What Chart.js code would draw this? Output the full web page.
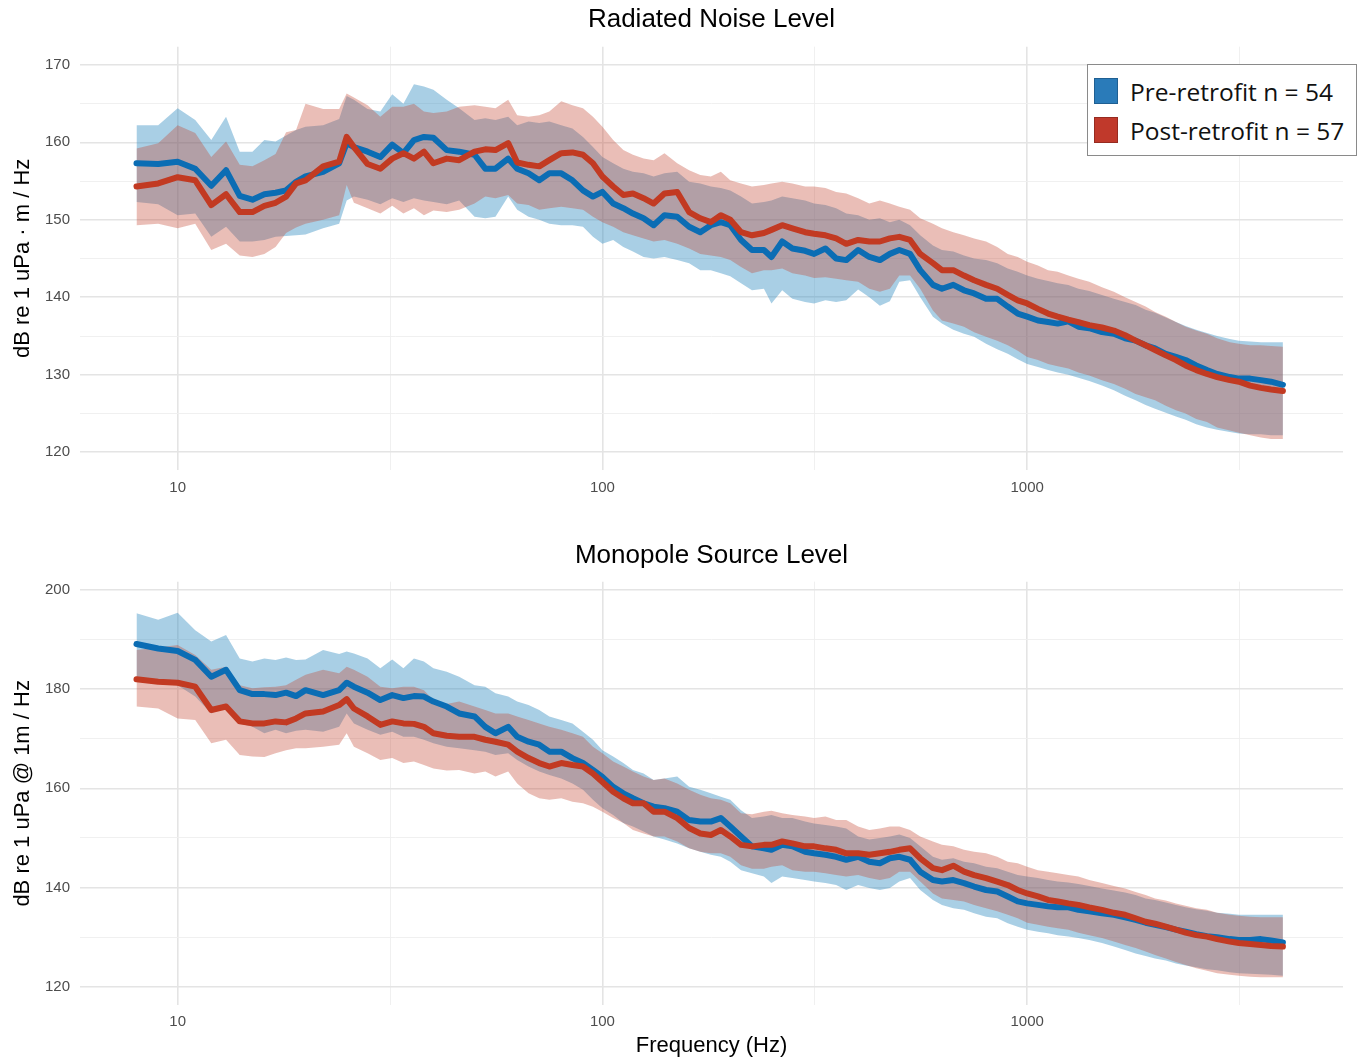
<!DOCTYPE html>
<html>
<head>
<meta charset="utf-8">
<title>Radiated Noise Level / Monopole Source Level</title>
<script src="https://cdn.jsdelivr.net/npm/chart.js@4.4.1/dist/chart.umd.min.js"></script>
<style>
  html, body { margin: 0; padding: 0; background: #ffffff; }
  #page { position: relative; width: 1363px; height: 1059px; overflow: hidden; background: #ffffff; }
  canvas { position: absolute; left: 0; display: block; }
  #rnlCanvas { top: 0; }
  #mslCanvas { top: 520px; }
  #legend {
    position: absolute; left: 1087px; top: 64px; width: 268px; height: 90px;
    border: 1.5px solid #8a8a8a; background: #ffffff;
    font-family: "Open Sans", "Noto Sans", sans-serif; font-size: 24.5px; color: #111111;
  }
  .legend-item { position: absolute; left: 6px; height: 26px; display: flex; align-items: center; white-space: nowrap; }
  .swatch { width: 24px; height: 26px; box-sizing: border-box; margin-right: 12px; }
</style>
</head>
<body>
<div id="page">
  <canvas id="rnlCanvas" width="1363" height="520"></canvas>
  <canvas id="mslCanvas" width="1363" height="539"></canvas>
  <div id="legend"></div>
</div>
<script>
// Frequency bins (Hz) shared by every curve
const FREQ_HZ = [
  8,9,10,11,12,13,14,15,16,17,18,19,20,
  22,24,25,26,28,30,32,34,36,38,40,43,
  46,50,53,56,60,63,67,71,75,80,85,90,95,100,
  106,112,118,125,132,140,150,160,170,180,190,200,
  212,225,240,250,265,280,300,315,335,355,375,400,
  425,450,475,500,530,560,600,630,670,710,750,800,
  850,900,950,1000,1060,1120,1180,1250,1320,1400,1500,1600,
  1700,1800,1900,2000,2120,2240,2360,2500,2650,2800,3000,3150,
  3350,3550,3750,4000
];

// Radiated noise level, dB re 1 uPa·m/Hz
const rnlPreMean = [
  157.3,157.2,157.5,156.6,154.4,156.4,153.1,152.6,153.3,153.5,153.8,154.9,155.6,
  156.2,157.3,159.9,159.4,158.8,158.1,159.7,158.6,160.3,160.7,160.6,159.0,
  158.8,158.4,156.6,156.6,157.9,156.6,156.0,155.1,156.0,156.0,155.1,153.8,153.0,153.6,
  152.1,151.5,150.8,150.2,149.3,150.6,150.4,149.1,148.4,149.3,149.7,149.3,
  147.4,146.1,146.1,145.2,147.2,146.3,146.0,145.6,146.3,145.0,144.8,146.1,
  145.2,144.8,145.6,146.1,145.6,143.5,141.6,141.1,141.6,140.9,140.5,139.8,
  139.8,138.8,137.9,137.5,137.0,136.8,136.6,136.9,136.2,136.0,135.5,135.3,
  134.7,134.4,133.8,133.4,132.7,132.3,131.9,131.2,130.6,130.1,129.7,129.5,
  129.5,129.3,129.1,128.7
];
const rnlPreUpper = [
  162.2,162.2,164.4,162.9,160.3,163.3,158.8,158.8,160.3,160.1,160.9,161.6,162.0,
  162.2,163.0,166.0,165.5,164.3,164.0,166.2,165.0,167.5,167.2,166.8,165.5,
  164.4,162.9,163.1,162.9,163.3,162.2,162.7,162.5,162.7,162.2,161.8,160.7,159.4,158.1,
  157.3,156.6,156.2,156.0,155.6,156.0,156.2,154.9,154.7,154.3,154.1,153.8,
  153.0,152.1,152.3,152.5,153.0,152.8,152.5,152.1,151.9,151.5,150.8,150.6,
  150.0,150.2,149.7,150.0,149.3,148.0,146.7,146.1,145.9,145.4,145.0,144.8,
  144.4,143.7,143.3,142.8,142.4,142.1,141.8,141.6,141.1,140.8,140.3,139.8,
  139.4,139.0,138.4,138.0,137.4,136.8,136.3,135.8,135.4,135.0,134.6,134.4,
  134.3,134.2,134.2,134.2
];
const rnlPreLower = [
  152.3,152.0,150.6,150.8,147.8,149.1,147.2,147.2,147.4,147.8,147.9,148.0,148.1,
  148.9,149.5,152.5,153.0,152.6,152.0,152.8,152.3,152.8,152.5,152.3,152.0,
  152.5,150.4,150.2,150.4,153.0,151.3,150.4,150.0,149.5,149.3,149.3,149.1,147.8,146.9,
  147.4,146.5,145.9,145.2,145.0,145.2,144.8,144.4,143.5,143.5,143.1,142.7,
  141.8,140.9,141.1,139.2,140.9,139.8,139.4,139.2,139.6,139.4,139.6,141.0,
  140.0,138.9,139.5,142.0,142.2,140.0,137.5,136.6,135.8,135.3,134.9,134.0,
  133.3,132.7,132.0,131.4,131.0,130.6,130.3,130.0,129.6,129.2,128.6,128.0,
  127.3,126.7,126.1,125.6,125.1,124.6,124.2,123.6,123.2,122.9,122.6,122.4,
  122.3,122.3,122.2,122.2
];
const rnlPostMean = [
  154.3,154.7,155.5,155.1,151.9,153.3,151.0,151.0,151.8,152.2,153.0,154.7,155.1,
  156.9,157.5,160.7,159.4,157.2,156.6,157.9,158.6,157.9,158.8,157.3,157.9,
  157.7,158.8,159.1,159.0,159.9,157.4,157.1,156.9,157.7,158.6,158.7,158.4,157.3,155.6,
  154.3,153.2,153.4,152.8,152.1,153.4,153.6,151.0,150.2,149.7,150.6,150.0,
  148.4,148.0,148.3,148.7,149.3,148.9,148.4,148.2,148.0,147.6,146.9,147.4,
  147.2,147.2,147.6,147.8,147.4,145.6,144.4,143.5,143.5,142.8,142.2,141.6,
  141.1,140.3,139.6,139.2,138.5,137.9,137.5,137.1,136.8,136.4,136.1,135.7,
  135.1,134.4,133.8,133.2,132.5,131.9,131.2,130.6,130.1,129.7,129.3,129.1,
  128.6,128.3,128.1,127.9
];
const rnlPostUpper = [
  159.2,159.9,162.2,161.2,158.1,160.1,157.1,156.9,157.7,158.5,161.3,161.6,165.0,
  164.3,164.3,166.3,165.8,164.8,163.3,164.6,164.6,165.0,164.0,163.8,164.0,
  164.6,164.8,164.6,164.4,165.5,163.5,163.3,163.5,164.0,165.3,164.8,164.4,163.3,162.0,
  160.3,159.0,158.4,157.9,157.7,158.6,157.3,156.4,155.8,155.6,156.2,155.1,
  154.7,154.3,154.5,154.7,154.9,154.7,154.3,154.3,154.1,153.6,153.4,152.8,
  152.1,152.5,152.1,151.7,151.3,150.2,149.5,148.9,148.4,148.0,147.6,147.2,
  146.5,145.6,145.2,144.6,144.1,143.5,143.3,142.8,142.4,142.0,141.3,140.7,
  140.0,139.4,138.8,138.1,137.5,136.8,136.2,135.7,135.3,134.7,134.2,134.0,
  133.8,133.8,133.7,133.6
];
const rnlPostLower = [
  149.3,149.5,148.9,149.5,146.1,146.9,145.4,145.2,145.6,146.5,148.3,149.0,149.5,
  150.0,150.6,154.5,152.2,151.5,150.8,151.8,150.8,151.5,150.6,151.2,151.0,
  151.3,152.1,153.0,152.8,153.2,152.1,151.9,151.3,151.5,151.7,151.5,151.3,150.4,149.7,
  149.1,148.4,148.0,147.6,147.2,147.4,146.9,146.3,145.6,145.4,145.2,144.8,
  143.9,143.1,143.5,143.5,143.7,143.1,142.8,142.5,142.6,142.4,142.2,142.0,
  141.1,140.7,141.1,142.8,142.8,141.1,138.3,137.0,136.6,136.2,135.5,134.9,
  134.4,133.8,133.1,132.3,131.9,131.4,131.1,130.8,130.3,129.9,129.3,128.8,
  128.2,127.5,127.1,126.7,126.0,125.4,125.0,124.3,123.9,123.2,122.8,122.5,
  122.2,121.9,121.7,121.7
];

// Monopole source level, dB re 1 uPa @ 1m/Hz
const mslPreMean = [
  189.1,188.2,187.7,185.9,182.5,183.9,179.8,179.0,179.0,178.8,179.3,178.6,179.8,
  178.8,179.8,181.3,180.5,179.3,177.8,178.8,178.2,178.6,178.5,177.5,176.5,
  175.1,174.5,172.4,171.1,172.4,170.4,169.4,168.8,167.4,167.4,166.1,165.1,163.7,162.3,
  160.3,159.0,158.0,157.0,156.3,156.0,155.3,153.6,153.3,153.3,154.0,152.3,
  150.3,148.3,147.9,147.6,148.6,148.3,147.2,146.9,146.6,146.2,145.6,146.2,
  145.2,144.9,145.9,146.2,145.6,143.2,141.5,141.2,141.5,140.9,140.2,139.5,
  139.2,138.2,137.2,136.8,136.5,136.2,136.0,136.0,135.5,135.2,134.8,134.5,
  134.0,133.5,132.9,132.5,132.0,131.5,131.1,130.6,130.2,130.0,129.6,129.4,
  129.4,129.6,129.3,128.9
];
const mslPreUpper = [
  195.3,194.0,195.4,191.9,189.6,190.9,186.2,185.6,186.2,185.9,186.4,185.9,186.0,
  187.9,187.1,187.6,187.2,186.2,184.2,186.0,184.2,186.2,185.6,184.2,183.5,
  182.5,180.8,180.5,179.2,178.5,177.5,176.8,175.8,174.5,173.8,173.1,171.4,169.8,167.7,
  166.4,165.1,163.7,163.0,161.7,162.0,162.4,160.3,159.7,159.0,158.3,157.7,
  155.6,154.0,154.3,154.6,154.0,154.0,153.3,152.9,152.6,152.3,151.9,150.3,
  149.7,150.0,150.3,150.7,150.0,148.3,146.2,145.6,145.9,145.2,144.9,144.2,
  143.9,143.2,142.5,142.2,141.9,141.5,141.2,141.0,140.7,140.3,139.8,139.4,
  139.0,138.5,137.8,137.5,137.0,136.5,136.0,135.6,135.3,134.9,134.7,134.5,
  134.5,134.5,134.5,134.5
];
const mslPreLower = [
  181.5,181.2,180.8,178.5,175.1,176.5,173.1,172.4,171.1,171.8,171.1,171.6,171.8,
  171.4,172.4,175.1,173.1,171.8,170.8,171.4,170.4,170.4,169.8,169.1,168.4,
  168.1,167.7,167.4,166.7,167.1,165.7,164.4,163.4,162.7,162.0,161.0,159.7,157.7,156.0,
  154.6,153.0,152.3,151.3,150.3,149.7,148.9,147.9,147.2,146.6,146.2,145.2,
  143.5,142.9,142.2,140.9,142.2,141.9,141.5,141.2,140.9,140.5,139.5,140.5,
  139.9,139.5,139.9,141.2,141.9,139.5,137.5,136.5,135.8,135.5,134.8,134.1,
  133.8,132.8,132.1,131.5,131.1,130.8,130.4,130.1,129.8,129.4,128.8,128.1,
  127.4,126.7,126.2,125.7,125.3,124.7,124.3,123.9,123.5,123.3,122.9,122.7,
  122.6,122.5,122.4,122.2
];
const mslPostMean = [
  182.0,181.5,181.3,180.5,175.8,176.5,173.5,173.1,173.1,173.5,173.3,174.1,175.1,
  175.5,176.8,178.0,176.1,174.5,172.8,173.5,173.1,173.0,172.4,171.1,170.6,
  170.4,170.4,169.8,169.4,168.8,167.4,166.1,165.1,164.4,165.1,164.7,164.4,163.0,161.3,
  159.3,158.0,157.0,157.0,155.3,155.3,154.0,152.0,150.9,150.6,151.6,150.3,
  148.6,148.3,148.6,148.6,149.3,148.9,148.3,148.3,147.9,147.6,146.9,146.9,
  146.6,146.9,147.2,147.6,147.9,145.9,143.9,143.5,144.4,143.2,142.5,141.9,
  141.2,140.5,139.5,138.8,138.2,137.5,137.2,136.8,136.5,136.0,135.5,134.9,
  134.5,133.8,133.1,132.7,132.1,131.5,130.9,130.4,130.1,129.6,129.1,128.8,
  128.6,128.4,128.2,128.1
];
const mslPostUpper = [
  187.9,188.4,188.9,186.9,183.9,184.5,180.8,180.2,180.4,180.5,180.8,181.9,182.9,
  183.9,183.2,184.5,183.9,182.5,180.5,180.2,180.5,180.5,179.8,177.8,177.0,
  177.5,176.5,175.8,175.1,175.1,174.5,173.8,173.1,172.4,171.8,171.1,170.4,168.4,167.1,
  165.4,164.4,163.4,162.4,161.7,162.0,161.0,159.7,158.7,158.0,157.7,157.0,
  155.0,154.8,155.3,155.5,155.0,154.6,154.3,154.0,154.3,153.6,153.6,152.3,
  151.6,151.9,152.3,152.3,151.6,150.3,149.3,148.6,148.3,147.6,147.2,146.9,
  146.2,145.2,144.9,144.2,143.5,143.2,142.9,142.5,142.2,141.5,140.9,140.3,
  139.8,139.1,138.5,137.8,137.4,136.8,136.3,135.8,135.5,134.9,134.5,134.3,
  134.1,134.0,134.0,134.0
];
const mslPostLower = [
  176.5,176.1,174.1,173.8,169.1,169.8,166.7,166.4,166.3,167.1,167.7,168.1,168.1,
  168.4,168.8,171.1,168.4,167.1,165.7,166.1,165.1,165.4,164.7,164.0,163.6,
  163.7,163.0,163.4,162.4,163.4,161.0,159.0,158.0,157.7,158.0,157.3,157.0,156.3,155.3,
  154.0,153.0,151.6,150.9,150.3,150.3,149.3,147.9,147.2,146.9,146.9,146.2,
  144.5,143.8,143.8,144.2,144.5,143.5,143.2,143.2,142.9,142.5,142.2,142.5,
  141.9,141.5,141.9,143.2,143.2,141.2,138.8,137.8,137.5,137.2,136.5,135.8,
  135.2,134.5,133.8,132.9,132.5,132.1,131.8,131.5,130.9,130.4,129.8,129.1,
  128.4,127.8,127.1,126.4,125.7,125.0,124.4,123.7,123.2,122.7,122.4,122.2,
  122.0,121.9,121.9,121.9
];

// Axis breaks
const X_TICKS = [10, 31.6228, 100, 316.228, 1000, 3162.28];
const X_TICK_LABELS = ['10', '', '100', '', '1000', ''];
const RNL_Y_TICKS = [120,125,130,135,140,145,150,155,160,165,170];
const MSL_Y_TICKS = [120,130,140,150,160,170,180,190,200];
const RNL_Y_LABEL_STEP = 10;
const MSL_Y_LABEL_STEP = 20;

const SERIES_NAMES = ['Pre-retrofit n = 54', 'Post-retrofit n = 57'];

// Colours
const PRE_LINE = '#0b6db4';
const POST_LINE = '#c23a22';
const PRE_FILL = 'rgba(40,135,190,0.40)';
const POST_FILL = 'rgba(195,70,50,0.35)';
const PRE_SWATCH = '#2a7bb9';
const POST_SWATCH = '#c0392b';
const GRID_MAJOR = '#e4e4e4';
const GRID_MINOR = '#eeeeee';
const TICK_COLOR = '#4d4d4d';
const SANS = '"Liberation Sans", Arial, sans-serif';

function points(values) {
  return FREQ_HZ.map((f, i) => ({ x: f, y: values[i] }));
}

function bandDatasets(lower, upper, fill, order) {
  return [
    { data: points(lower), borderWidth: 0, borderColor: 'transparent', pointRadius: 0, fill: false, order },
    { data: points(upper), borderWidth: 0, borderColor: 'transparent', pointRadius: 0, backgroundColor: fill, fill: '-1', order }
  ];
}

function meanDataset(values, color, order) {
  return {
    data: points(values), borderColor: color, borderWidth: 6, pointRadius: 0,
    fill: false, tension: 0, borderJoinStyle: 'round', borderCapStyle: 'round', order
  };
}

function buildChart(canvasId, cfg) {
  const datasets = [
    ...bandDatasets(cfg.preLower, cfg.preUpper, PRE_FILL, 4),
    ...bandDatasets(cfg.postLower, cfg.postUpper, POST_FILL, 3),
    meanDataset(cfg.preMean, PRE_LINE, 2),
    meanDataset(cfg.postMean, POST_LINE, 1)
  ];
  return new Chart(document.getElementById(canvasId), {
    type: 'line',
    data: { datasets },
    options: {
      responsive: false,
      animation: false,
      events: [],
      layout: { padding: { left: 0, right: 20, top: 0, bottom: 0 } },
      plugins: {
        legend: { display: false },
        tooltip: { enabled: false },
        title: {
          display: true, fullSize: false, text: cfg.title, color: '#000000',
          font: { family: SANS, size: 26, weight: 'normal' },
          padding: cfg.titlePadding
        }
      },
      scales: {
        x: {
          type: 'logarithmic',
          min: 5.89, max: 5540,
          afterBuildTicks: (s) => { s.ticks = X_TICKS.map(v => ({ value: v })); },
          afterFit: (s) => { s.height = cfg.xAxisHeight; },
          border: { display: false },
          grid: {
            drawTicks: false,
            color: (c) => (X_TICK_LABELS[c.index] ? GRID_MAJOR : GRID_MINOR),
            lineWidth: (c) => (X_TICK_LABELS[c.index] ? 1.6 : 0.9)
          },
          ticks: {
            autoSkip: false, maxRotation: 0, minRotation: 0, padding: cfg.xTickPadding,
            color: TICK_COLOR, font: { family: SANS, size: 15 },
            callback: (v, i) => X_TICK_LABELS[i]
          },
          title: cfg.xTitle
            ? { display: true, text: cfg.xTitle, color: '#000000', font: { family: SANS, size: 22 }, padding: { top: 0, bottom: 0 } }
            : { display: false }
        },
        y: {
          type: 'linear',
          min: cfg.yMin, max: cfg.yMax,
          afterBuildTicks: (s) => { s.ticks = cfg.yTicks.map(v => ({ value: v })); },
          afterFit: (s) => { s.width = 80; },
          border: { display: false },
          grid: {
            drawTicks: false,
            color: (c) => (c.tick && c.tick.value % cfg.yLabelStep === 0 ? GRID_MAJOR : GRID_MINOR),
            lineWidth: (c) => (c.tick && c.tick.value % cfg.yLabelStep === 0 ? 1.6 : 0.9)
          },
          ticks: {
            autoSkip: false, padding: 10, color: TICK_COLOR, font: { family: SANS, size: 15 },
            callback: (v) => (v % cfg.yLabelStep === 0 ? String(v) : '')
          },
          title: { display: true, text: cfg.yTitle, color: '#000000', font: { family: SANS, size: 22 }, padding: { top: 10, bottom: 0 } }
        }
      }
    }
  });
}

buildChart('rnlCanvas', {
  title: 'Radiated Noise Level',
  titlePadding: { top: 4.4, bottom: 11.1 },
  yTitle: 'dB re 1 uPa · m / Hz',
  yMin: 117.7, yMax: 172.35, yTicks: RNL_Y_TICKS, yLabelStep: RNL_Y_LABEL_STEP,
  xAxisHeight: 50, xTickPadding: 9, xTitle: null,
  preMean: rnlPreMean, preUpper: rnlPreUpper, preLower: rnlPreLower,
  postMean: rnlPostMean, postUpper: rnlPostUpper, postLower: rnlPostLower
});

buildChart('mslCanvas', {
  title: 'Monopole Source Level',
  titlePadding: { top: 20.4, bottom: 10.1 },
  yTitle: 'dB re 1 uPa @ 1m / Hz',
  yMin: 116.31, yMax: 201.67, yTicks: MSL_Y_TICKS, yLabelStep: MSL_Y_LABEL_STEP,
  xAxisHeight: 54, xTickPadding: 8, xTitle: 'Frequency (Hz)',
  preMean: mslPreMean, preUpper: mslPreUpper, preLower: mslPreLower,
  postMean: mslPostMean, postUpper: mslPostUpper, postLower: mslPostLower
});

// Legend for the two survey groups
(function buildLegend() {
  const legend = document.getElementById('legend');
  const swatches = [[PRE_SWATCH, '#1f5f92'], [POST_SWATCH, '#962b20']];
  const tops = [13, 52];
  SERIES_NAMES.forEach((name, i) => {
    const item = document.createElement('div');
    item.className = 'legend-item';
    item.style.top = tops[i] + 'px';
    const sw = document.createElement('span');
    sw.className = 'swatch';
    sw.style.background = swatches[i][0];
    sw.style.border = '1px solid ' + swatches[i][1];
    const label = document.createElement('span');
    label.textContent = name;
    item.appendChild(sw);
    item.appendChild(label);
    legend.appendChild(item);
  });
})();
</script>
</body>
</html>
